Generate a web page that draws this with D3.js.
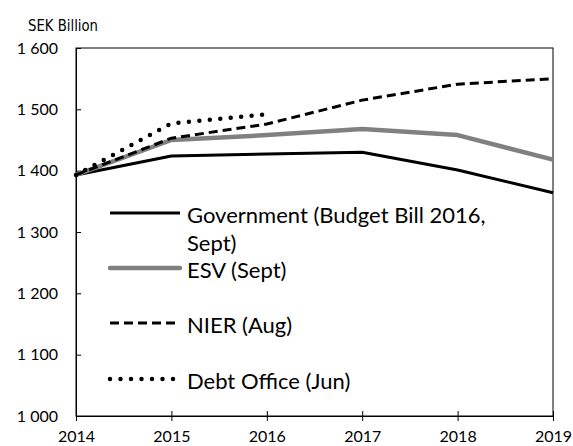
<!DOCTYPE html>
<html><head><meta charset="utf-8">
<script src="https://cdn.jsdelivr.net/npm/d3@7"></script>
<style>body{margin:0;background:#fff}</style>
</head><body>
<svg id="c" width="573" height="446"></svg>
<script>
const years = [2014, 2015, 2016, 2017, 2018, 2019];
const yTicks = [1000, 1100, 1200, 1300, 1400, 1500, 1600];
const government = [1393, 1424, 1427, 1430, 1401, 1364];
const esv = [1393, 1450, 1458, 1468, 1458, 1418];
const nier = [1393, 1453, 1476, 1515, 1541, 1550];
const debtOffice = [1393, 1477, 1492];
const seriesNames = ["Government (Budget Bill 2016,|Sept)", "ESV (Sept)", "NIER (Aug)", "Debt Office (Jun)"];

const svg = d3.select("#c");
const m = {l: 76, r: 553, t: 48, b: 416};
const x = d3.scaleLinear().domain([2014, 2019]).range([m.l, m.r]);
const y = d3.scaleLinear().domain([1000, 1600]).range([m.b, m.t]);
const fmt = v => d3.format(",")(v).replace(",", " ");
const font = "Lato, 'Open Sans', sans-serif";

// frame
svg.append("rect").attr("x", m.l).attr("y", m.t).attr("width", m.r - m.l).attr("height", m.b - m.t)
  .attr("fill", "none").attr("stroke", "#000").attr("stroke-width", 1);

// y axis
const ya = svg.append("g").attr("transform", `translate(${m.l},0)`)
  .call(d3.axisLeft(y).tickValues(yTicks).tickFormat(fmt).tickSizeInner(-5).tickSizeOuter(0).tickPadding(18));
ya.select(".domain").attr("stroke", "#000");
ya.selectAll("text").attr("font-family", font).attr("font-size", 16).attr("fill", "#000");

// x axis
const xa = svg.append("g").attr("transform", `translate(0,${m.b})`)
  .call(d3.axisBottom(x).tickValues(years).tickFormat(d3.format("d")).tickSizeInner(5).tickSizeOuter(0).tickPadding(10));
xa.selectAll(".tick line").attr("y1", -5).attr("y2", 5);
xa.selectAll("text").attr("font-family", font).attr("font-size", 16).attr("fill", "#000");

svg.append("text").attr("x", 28).attr("y", 31).text("SEK Billion")
  .attr("font-family", "'Liberation Sans Narrow', 'DejaVu Sans Condensed', sans-serif")
  .attr("font-stretch", "condensed").attr("font-size", 16)
  .attr("textLength", 70).attr("lengthAdjust", "spacingAndGlyphs").attr("fill", "#000");

const styles = [
  {stroke: "#000", w: 3, dash: null, cap: "butt"},
  {stroke: "#808080", w: 4.5, dash: null, cap: "butt"},
  {stroke: "#000", w: 3, dash: "9,5", cap: "butt"},
  {stroke: "#000", w: 4.5, dash: "0,10.5", cap: "round"}
];
const allData = [government, esv, nier, debtOffice];
const line = d3.line().x((d, i) => x(years[i])).y(d => y(d));

allData.forEach((data, k) => {
  const s = styles[k];
  svg.append("path").datum(data).attr("d", line).attr("fill", "none")
    .attr("stroke", s.stroke).attr("stroke-width", s.w)
    .attr("stroke-dasharray", s.dash).attr("stroke-linecap", s.cap).attr("stroke-linejoin", "round");
});

// legend
const legY = [213, 268, 323, 379];
seriesNames.forEach((name, k) => {
  const s = styles[k];
  svg.append("line").attr("x1", 110).attr("x2", 180).attr("y1", legY[k]).attr("y2", legY[k])
    .attr("stroke", s.stroke).attr("stroke-width", s.w).attr("stroke-dasharray", s.dash)
    .attr("stroke-linecap", (k === 1 || k === 3) ? "round" : "butt");
  const parts = name.split("|");
  parts.forEach((p, j) => {
    svg.append("text").attr("x", 187).attr("y", legY[k] + 10 + j * 28).text(p)
      .attr("font-family", font).attr("font-size", 22).attr("fill", "#000");
  });
});
</script>
</body></html>
